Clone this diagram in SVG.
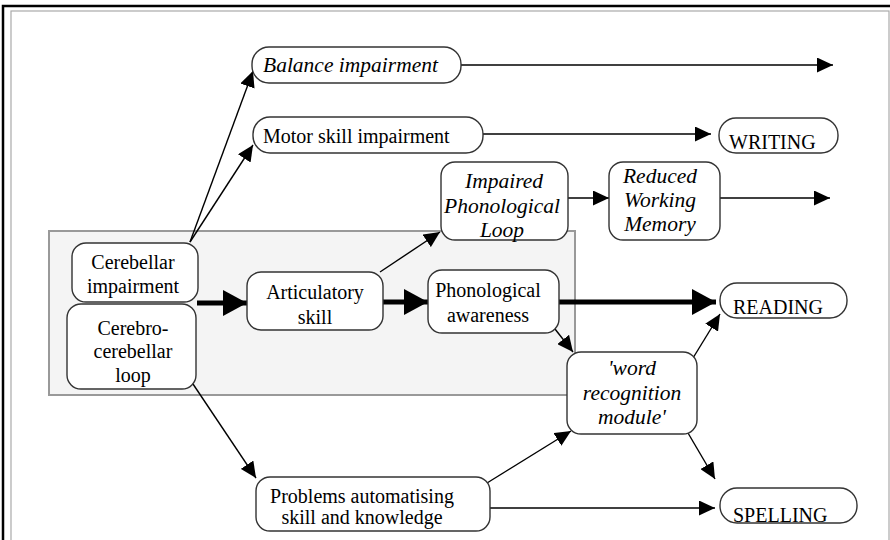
<svg xmlns="http://www.w3.org/2000/svg" width="890" height="540" viewBox="0 0 890 540" font-family="Liberation Serif, Times New Roman, Times, serif">
  <style>
    .node rect { fill: #ffffff; stroke: #333333; stroke-width: 1.4; }
    .t { font-size: 20px; }
    .i { font-size: 21.5px; font-style: italic; }
    .c { text-anchor: middle; }
    .thin { stroke: #000; stroke-width: 1.4; fill: none; marker-end: url(#ah); }
    .thick { stroke: #000; stroke-width: 5; fill: none; marker-end: url(#ahBig); }
  </style>
  <defs>
    <marker id="ah" markerUnits="userSpaceOnUse" markerWidth="16" markerHeight="15" refX="16" refY="7.5" orient="auto">
      <path d="M0,0 L16,7.5 L0,15 z" fill="#000"/>
    </marker>
    <marker id="ahBig" markerUnits="userSpaceOnUse" markerWidth="24" markerHeight="26" refX="24" refY="13" orient="auto">
      <path d="M0,0 L24,13 L0,26 z" fill="#000"/>
    </marker>
  </defs>

  <!-- page frame -->
  <rect x="0" y="0" width="890" height="540" fill="#ffffff"/>
  <rect x="3" y="6" width="900" height="600" fill="none" stroke="#000" stroke-width="2.5"/>
  <rect x="11" y="11" width="878" height="600" fill="none" stroke="#aaaaaa" stroke-width="1.2"/>

  <!-- shaded cerebellar region -->
  <rect x="49" y="231" width="526" height="164" fill="#f4f4f4" stroke="#999999" stroke-width="2"/>

  <g id="connectors">
    <path class="thin" d="M190,242 L253,71"/>
    <path class="thin" d="M190,242 L253,145"/>
    <path class="thin" d="M461,65 L833,65"/>
    <path class="thin" d="M483,134 L711,134"/>
    <path class="thin" d="M380,272 L440,232"/>
    <path class="thin" d="M568,198 L609,198"/>
    <path class="thin" d="M720,198 L830,198"/>
    <path class="thin" d="M555,329 L573,352"/>
    <path class="thin" d="M693,358 L720,314"/>
    <path class="thin" d="M688,433 L715,479"/>
    <path class="thin" d="M487,483 L571,431"/>
    <path class="thin" d="M490,508 L715,508"/>
    <path class="thin" d="M193,384 L256,478"/>
    <path class="thick" d="M197,303 L247,303"/>
    <path class="thick" d="M383,302 L428,302"/>
    <path class="thick" d="M559,302 L716,302"/>
  </g>

  <g id="balance" class="node">
    <rect x="252" y="47" width="209" height="36" rx="17"/>
    <text class="i" x="263" y="72">Balance impairment</text>
  </g>
  <g id="motor" class="node">
    <rect x="253" y="117" width="230" height="36" rx="17"/>
    <text class="t" x="263" y="143">Motor skill impairment</text>
  </g>
  <g id="writing" class="node">
    <rect x="719" y="118" width="119" height="35" rx="17"/>
    <text class="t" x="729" y="149">WRITING</text>
  </g>
  <g id="impaired-loop" class="node">
    <rect x="441" y="162" width="127" height="78" rx="14"/>
    <text class="i c" x="504" y="188">Impaired</text>
    <text class="i c" x="502" y="213">Phonological</text>
    <text class="i c" x="502" y="237">Loop</text>
  </g>
  <g id="working-memory" class="node">
    <rect x="609" y="162" width="111" height="78" rx="14"/>
    <text class="i c" x="660" y="183">Reduced</text>
    <text class="i c" x="660" y="207">Working</text>
    <text class="i c" x="660" y="231">Memory</text>
  </g>
  <g id="cerebellar" class="node">
    <rect x="72" y="243" width="126" height="59" rx="14"/>
    <text class="t c" x="133" y="269">Cerebellar</text>
    <text class="t c" x="133" y="293">impairment</text>
  </g>
  <g id="cerebro-loop" class="node">
    <rect x="67" y="304" width="129" height="85" rx="14"/>
    <text class="t c" x="133" y="335">Cerebro-</text>
    <text class="t c" x="133" y="358">cerebellar</text>
    <text class="t c" x="133" y="382">loop</text>
  </g>
  <g id="articulatory" class="node">
    <rect x="247" y="272" width="136" height="58" rx="14"/>
    <text class="t c" x="315" y="299">Articulatory</text>
    <text class="t c" x="315" y="324">skill</text>
  </g>
  <g id="phon-awareness" class="node">
    <rect x="428" y="270" width="131" height="63" rx="14"/>
    <text class="t c" x="488" y="297">Phonological</text>
    <text class="t c" x="488" y="322">awareness</text>
  </g>
  <g id="reading" class="node">
    <rect x="720" y="283" width="127" height="35" rx="17"/>
    <text class="t" x="733" y="314">READING</text>
  </g>
  <g id="word-recognition" class="node">
    <rect x="567" y="352" width="130" height="82" rx="14"/>
    <text class="i c" x="632" y="375">'word</text>
    <text class="i c" x="632" y="400">recognition</text>
    <text class="i c" x="632" y="424">module'</text>
  </g>
  <g id="automatising" class="node">
    <rect x="256" y="477" width="234" height="54" rx="14"/>
    <text class="t c" x="362" y="503">Problems automatising</text>
    <text class="t c" x="362" y="524">skill and knowledge</text>
  </g>
  <g id="spelling" class="node">
    <rect x="720" y="488" width="137" height="35" rx="17"/>
    <text class="t" x="733" y="522">SPELLING</text>
  </g>
</svg>
